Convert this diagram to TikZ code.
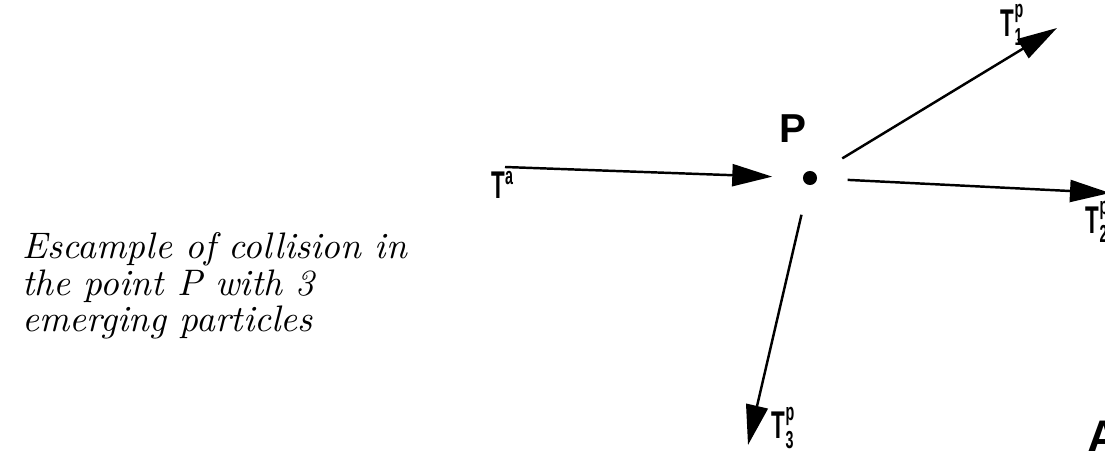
\documentclass[tikz,border=0pt]{standalone}
\usepackage{fontspec}
\setmainfont{Latin Modern Roman}
\newfontfamily\labelfont[FakeStretch=0.58]{Liberation Sans}
\newfontfamily\pfont{Liberation Sans}
\usepackage{tikz}
\usetikzlibrary{positioning,arrows.meta,calc}

\newcommand\trk[2]{T$^{\hbox{\labelfont\bfseries\fontsize{7}{7}\selectfont #2}}_{\hbox{\labelfont\bfseries\fontsize{7}{7}\selectfont #1}}$}

\tikzset{
  arr/.style={-{Triangle[length=4mm,width=2.2mm]}, line width=0.7pt},
  tlabel/.style={font=\labelfont\bfseries\fontsize{11}{11}\selectfont, inner sep=0pt},
  dot/.style={circle, fill, inner sep=0pt, minimum size=4pt}
}

\begin{document}
\begin{tikzpicture}

% Frame
\clip (0, 0) rectangle (11.05, 4.5);

% Collision point
\node[dot] (p) at (8.10, 2.72) {};
\node[font=\pfont\bfseries\fontsize{11.5}{12}\selectfont] (plabel) at (7.93, 3.21) {P};

% End points of the tracks
\coordinate (ta) at (5.05, 2.83);
\coordinate (t1) at (10.57, 4.22);
\coordinate (t2) at (11.10, 2.57);
\coordinate (t3) at (7.48, 0.05);

% Incoming and emerging tracks
\draw[arr, shorten >=0.3cm] (ta) -- (p);
\draw[arr, shorten <=0.3cm] (p) -- (t1);
\draw[arr, shorten <=0.3cm] (p) -- (t2);
\draw[arr, shorten <=0.3cm] (p) -- (t3);

% Track labels
\node[tlabel] (la) at (5.03, 2.60) {\trk{}{a}};
\node[tlabel] (l1) at (10.13, 4.25) {\trk{1}{p}};
\node[tlabel] (l2) at (10.98, 2.28) {\trk{2}{p}};
\node[tlabel] (l3) at (7.84, 0.22) {\trk{3}{p}};

% Note
\node[anchor=north west, align=left, font=\itshape\fontsize{10.5}{8.8}\selectfont] (note) at (0.10, 2.30)
  {Escample of collision in\\the point P with 3\\emerging particles};

% Cut letter
\node[anchor=north west, inner sep=0pt, font=\pfont\bfseries\fontsize{13}{13}\selectfont] (a) at (10.87, 0.30) {A};

\end{tikzpicture}
\end{document}
